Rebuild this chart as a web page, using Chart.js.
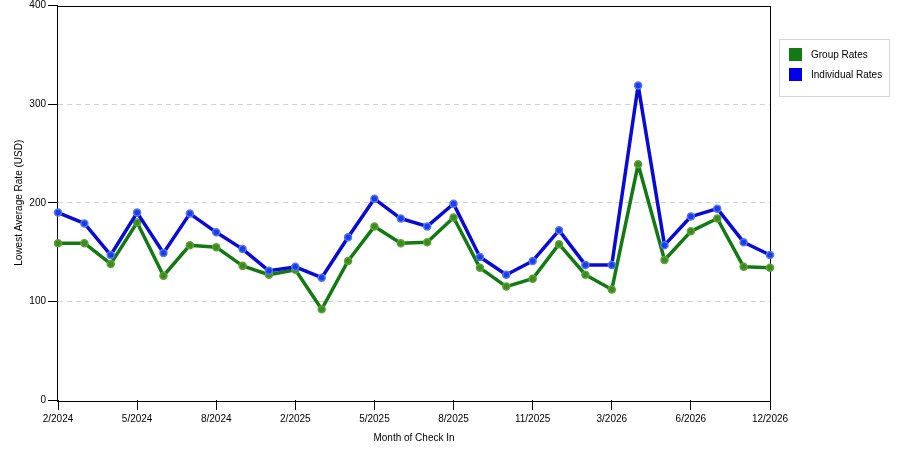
<!DOCTYPE html>
<html>
<head>
<meta charset="utf-8">
<script src="https://cdn.jsdelivr.net/npm/chart.js@4"></script>
<style>
  body { margin: 0; background: #fff; }
  #wrap { position: relative; width: 900px; height: 450px; }
  #legend {
    position: absolute; left: 779px; top: 39px; width: 109px; height: 56px;
    border: 1px solid #d4d4d4; font: 10px "Liberation Sans", Arial, sans-serif; color: #000;
  }
  .item { position: absolute; left: 9px; height: 13px; line-height: 13px; }
  .item span { display: inline-block; width: 13px; height: 13px; vertical-align: top; margin-right: 9px; }
</style>
</head>
<body>
<div id="wrap">
  <canvas id="chart" width="900" height="450"></canvas>
  <div id="legend">
    <div class="item" style="top:8px"><span style="background:#127a12"></span>Group Rates</div>
    <div class="item" style="top:28px"><span style="background:#0000e6"></span>Individual Rates</div>
  </div>
</div>
<script>
// meses (alguns meses faltam na série original)
const months = [
    '2/2024', '3/2024', '4/2024', '5/2024', '6/2024', '7/2024', '8/2024',
    '9/2024', '12/2024', '2/2025', '3/2025', '4/2025', '5/2025', '6/2025',
    '7/2025', '8/2025', '9/2025', '10/2025', '11/2025', '12/2025', '1/2026',
    '3/2026', '4/2026', '5/2026', '6/2026', '7/2026', '9/2026', '12/2026'
];
const groupRates = [
    159, 159, 138, 180, 126, 157, 155, 136, 127, 132, 92, 141, 176, 159,
    160, 185, 134, 115, 123, 158, 127, 112, 239, 142, 171, 184, 135, 134
];
const individualRates = [
    190, 179, 147, 190, 149, 189, 170, 153, 131, 135, 124, 165, 204, 184,
    176, 199, 145, 127, 141, 172, 137, 137, 319, 157, 186, 194, 160, 147
];
const yTicks = [0, 100, 200, 300, 400];

const font = { family: '"Liberation Sans", Arial, sans-serif', size: 10 };

// moldura preta em volta da área do gráfico
const frame = {
    id: 'frame',
    beforeDatasetsDraw(chart) {
        const a = chart.chartArea;
        const ctx = chart.ctx;
        ctx.save();
        ctx.strokeStyle = '#000';
        ctx.lineWidth = 1;
        ctx.strokeRect(Math.round(a.left) - 0.5, Math.round(a.top) + 0.5,
            Math.round(a.right - a.left) + 1, Math.round(a.bottom - a.top));
        ctx.restore();
    }
};

new Chart(document.getElementById('chart'), {
    type: 'line',
    data: {
        labels: months,
        datasets: [
            {
                label: 'Group Rates',
                data: groupRates,
                order: 2,
                borderColor: '#137a13',
                borderWidth: 3.5,
                borderJoinStyle: 'round',
                pointRadius: 3.5,
                pointBackgroundColor: '#3f8a1c',
                pointBorderColor: '#5aa33a',
                pointBorderWidth: 1.5,
                tension: 0
            },
            {
                label: 'Individual Rates',
                data: individualRates,
                order: 1,
                borderColor: '#0a0ad8',
                borderWidth: 3.5,
                borderJoinStyle: 'round',
                pointRadius: 3.5,
                pointBackgroundColor: '#1a3ee6',
                pointBorderColor: '#5577f0',
                pointBorderWidth: 1.5,
                tension: 0
            }
        ]
    },
    options: {
        responsive: false,
        animation: false,
        layout: { padding: { left: 0, right: 130, top: 5, bottom: 0 } },
        plugins: { legend: { display: false }, tooltip: { enabled: false } },
        scales: {
            x: {
                border: { display: false },
                grid: {
                    drawOnChartArea: false,
                    tickLength: 10,
                    tickColor: c => (c.index % 3 === 0 ? '#000' : 'rgba(0,0,0,0)')
                },
                ticks: {
                    autoSkip: false,
                    maxRotation: 0,
                    padding: 3,
                    color: '#000',
                    font: font,
                    callback: (v, i) => (i % 3 === 0 ? months[i] : '')
                },
                title: {
                    display: true,
                    text: 'Month of Check In',
                    color: '#000',
                    font: font,
                    padding: { top: 2, bottom: 6 }
                },
                afterFit: s => { s.height = 50; }
            },
            y: {
                min: 0,
                max: 400,
                border: { display: false, dash: [5, 4] },
                afterBuildTicks: s => { s.ticks = yTicks.map(v => ({ value: v })); },
                grid: {
                    tickLength: 10,
                    tickColor: '#000',
                    tickBorderDash: [],
                    color: c => (c.tick && c.tick.value > 0 && c.tick.value < 400 ? '#d2d2d2' : 'rgba(0,0,0,0)')
                },
                ticks: { padding: 2, color: '#000', font: font },
                title: {
                    display: true,
                    text: 'Lowest Average Rate (USD)',
                    color: '#000',
                    font: font,
                    padding: { top: 13, bottom: 0 }
                },
                afterFit: s => { s.width = 58; s.paddingTop = 0; s.paddingBottom = 0; }
            }
        }
    },
    plugins: [frame]
});
</script>
</body>
</html>
